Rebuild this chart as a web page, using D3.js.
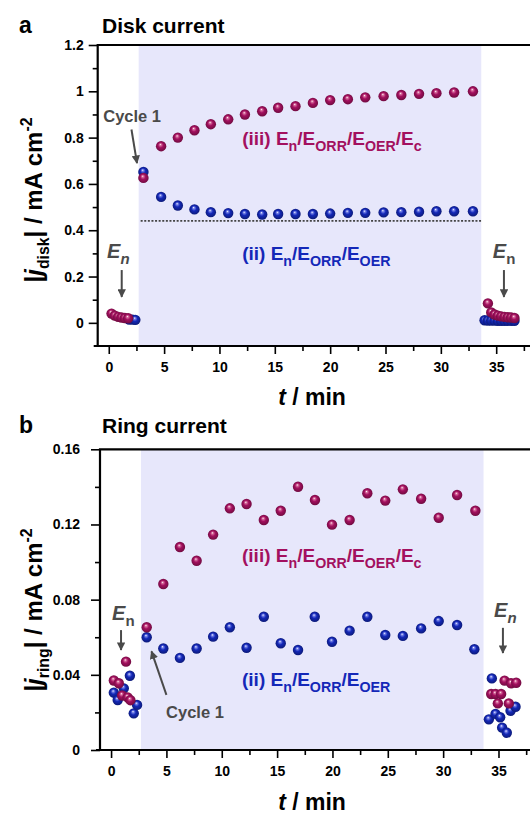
<!DOCTYPE html>
<html>
<head>
<meta charset="utf-8">
<script src="https://cdn.jsdelivr.net/npm/d3@7"></script>
<style>
  body { margin: 0; background: #fff; }
  svg { font-family: "Liberation Sans", Arial, sans-serif; font-weight: bold; }
</style>
</head>
<body>
<div id="chart"></div>
<script>
// ---- data ----
// disk current, panel a
var diskIII_t = [0.25, 0.55, 0.85, 1.15, 1.45, 1.75,
  3.13, 4.73, 6.24, 7.74, 9.22, 10.79, 12.3, 13.86, 15.3, 16.87, 18.44, 20.0, 21.6, 23.17, 24.83, 26.43, 28.03, 29.6, 31.2, 32.9,
  34.25, 34.55, 34.85, 35.15, 35.45, 35.75, 36.05, 36.35, 36.65]
var diskIII_j = [0.040, 0.031, 0.026, 0.023, 0.021, 0.020,
  0.626, 0.763, 0.800, 0.832, 0.858, 0.879, 0.900, 0.914, 0.929, 0.936, 0.950, 0.962, 0.966, 0.974, 0.979, 0.984, 0.989, 0.992, 0.995, 1.000,
  0.084, 0.045, 0.036, 0.031, 0.028, 0.026, 0.024, 0.023, 0.021]
var diskII_t = [1.85, 2.15, 2.4,
  3.13, 4.73, 6.24, 7.74, 9.22, 10.79, 12.3, 13.86, 15.3, 16.87, 18.44, 20.0, 21.6, 23.17, 24.83, 26.43, 28.03, 29.6, 31.2, 32.9,
  33.95, 34.25, 34.55, 34.85, 35.15, 35.45, 35.75, 36.05, 36.35, 36.65]
var diskII_j = [0.014, 0.014, 0.013,
  0.652, 0.544, 0.507, 0.490, 0.478, 0.474, 0.470, 0.468, 0.470, 0.470, 0.470, 0.472, 0.475, 0.475, 0.477, 0.478, 0.480, 0.482, 0.482, 0.482,
  0.011, 0.010, 0.010, 0.010, 0.009, 0.009, 0.009, 0.009, 0.009, 0.009]
var diskBaseline = 0.44

// ring current, panel b
var ringIII_t = [0.25, 0.7, 1.0, 1.35, 1.5, 1.75,
  3.22, 4.72, 6.22, 7.73, 9.22, 10.73, 12.24, 13.8, 15.33, 16.89, 18.42, 19.96, 21.55, 23.15, 24.77, 26.36, 28.01, 29.6, 31.26, 32.91,
  34.34, 34.73, 35.24, 34.94, 35.55, 35.93, 36.14, 36.6]
var ringIII_j = [0.0370, 0.0355, 0.0290, 0.0470, 0.0280, 0.0265,
  0.0653, 0.0883, 0.1080, 0.1007, 0.1146, 0.1286, 0.1309, 0.1224, 0.1273, 0.1401, 0.1330, 0.1199, 0.1224, 0.1366, 0.1327, 0.1387, 0.1337, 0.1236, 0.1357, 0.1273,
  0.0298, 0.0298, 0.0298, 0.0248, 0.0369, 0.0248, 0.0355, 0.0358]
var ringII_t = [0.25, 0.6, 1.15, 1.7, 2.05, 2.35,
  3.22, 4.72, 6.22, 7.73, 9.22, 10.73, 12.24, 13.8, 15.33, 16.89, 18.4, 19.96, 21.55, 23.15, 24.77, 26.36, 28.01, 29.6, 31.26, 32.82,
  34.4, 34.13, 34.73, 35.15, 35.33, 35.75, 36.09, 36.54]
var ringII_j = [0.0305, 0.0266, 0.0328, 0.0395, 0.0195, 0.0240,
  0.0600, 0.0540, 0.0490, 0.0540, 0.0603, 0.0653, 0.0544, 0.0709, 0.0568, 0.0532, 0.0709, 0.0576, 0.0635, 0.0709, 0.0612, 0.0607, 0.0647, 0.0686, 0.0665, 0.0536,
  0.0381, 0.0163, 0.0192, 0.0174, 0.0119, 0.0092, 0.0209, 0.0230]

// shaded cycling window (min)
var cycleWindow = [2.7, 33.65]

var xMajor = [0, 5, 10, 15, 20, 25, 30, 35]
var xMinor = [2.5, 7.5, 12.5, 17.5, 22.5, 27.5, 32.5, 37.5]
var diskMajor = [0, 0.2, 0.4, 0.6, 0.8, 1, 1.2]
var diskMinor = [0.1, 0.3, 0.5, 0.7, 0.9, 1.1]
var ringMajor = [0, 0.04, 0.08, 0.12, 0.16]
var ringMinor = [0.02, 0.06, 0.1, 0.14]

var MAG = "#a3105f", BLU = "#1428b8", GREY = "#4a4a4a"

var width = 530, height = 816

var svg = d3.select("#chart").append("svg")
  .attr("width", width)
  .attr("height", height)

// shiny sphere markers
var defs = svg.append("defs")
function sphere(id, light, base, dark) {
  var g = defs.append("radialGradient").attr("id", id)
    .attr("cx", "50%").attr("cy", "50%").attr("r", "55%")
    .attr("fx", "42%").attr("fy", "32%")
  g.append("stop").attr("offset", "0%").attr("stop-color", "#ffffff")
  g.append("stop").attr("offset", "16%").attr("stop-color", light)
  g.append("stop").attr("offset", "45%").attr("stop-color", base)
  g.append("stop").attr("offset", "100%").attr("stop-color", dark)
}
sphere("gMag", "#d9709f", MAG, "#6a0a3c")
sphere("gBlu", "#7a86e8", BLU, "#0b1870")

defs.append("marker").attr("id", "arrow")
  .attr("viewBox", "0 0 10 10").attr("refX", 9).attr("refY", 5)
  .attr("markerWidth", 4.2).attr("markerHeight", 4.2)
  .attr("markerUnits", "strokeWidth")
  .attr("orient", "auto")
  .append("path").attr("d", "M0,0 L10,5 L0,10 z").attr("fill", GREY)

// text with sub/superscripts: parts = [[text, style]], style one of "", "i", "sub", "isub", "sup"
function rich(sel, parts, size, ratio) {
  ratio = ratio || 0.66
  var shift = 0
  parts.forEach(function(p) {
    var s = p[1] || ""
    var small = s.indexOf("sub") >= 0 || s.indexOf("sup") >= 0
    var target = s.indexOf("sub") >= 0 ? size * 0.3 : (s.indexOf("sup") >= 0 ? -size * 0.42 : 0)
    sel.append("tspan")
      .attr("dy", target - shift)
      .attr("font-size", small ? size * ratio : size)
      .attr("font-style", (s == "i" || s == "isub") ? "italic" : null)
      .text(p[0])
    shift = target
  })
}

function panel(cfg) {
  var x = d3.scaleLinear().domain([-1, 38]).range([cfg.left, cfg.left + 431.7])
  var y = d3.scaleLinear().domain(cfg.yDomain).range([cfg.bottom, cfg.top])
  var g = svg.append("g")

  // shaded window
  g.append("rect")
    .attr("x", x(cycleWindow[0])).attr("y", cfg.top)
    .attr("width", x(cycleWindow[1]) - x(cycleWindow[0]))
    .attr("height", cfg.bottom - cfg.top)
    .attr("fill", "#e7e7fb")

  if (cfg.baseline != null) {
    g.append("line")
      .attr("x1", x(cycleWindow[0]) + 2).attr("x2", x(cycleWindow[1]))
      .attr("y1", y(cfg.baseline)).attr("y2", y(cfg.baseline))
      .attr("stroke", "#444").attr("stroke-width", 1.8)
      .attr("stroke-dasharray", "2,1.6")
  }

  // axes
  var yl = g.append("g").attr("transform", "translate(" + cfg.left + ",0)")
  yl.call(d3.axisLeft(y).tickValues(cfg.yMajor).tickSize(9).tickPadding(cfg.yPad)
    .tickFormat(function(d) { return String(+d.toFixed(2)) }))
  yl.append("g").call(d3.axisLeft(y).tickValues(cfg.yMinor).tickSize(5).tickFormat(""))
  var xb = g.append("g").attr("transform", "translate(0," + cfg.bottom + ")")
  xb.call(d3.axisBottom(x).tickValues(xMajor).tickSize(8).tickPadding(8))
  xb.append("g").call(d3.axisBottom(x).tickValues(xMinor).tickSize(5).tickFormat(""))
  g.selectAll(".domain").remove()
  g.selectAll(".tick line").attr("stroke", "#000").attr("stroke-width", 1.6)
  g.selectAll(".tick text").attr("fill", "#000").attr("font-size", 14)
    .attr("font-family", "Liberation Sans, Arial, sans-serif").attr("font-weight", "bold")

  g.append("path")
    .attr("d", "M" + (cfg.left - 4) + "," + cfg.bottom + "H" + width +
               "M" + cfg.left + "," + (cfg.bottom + 1) + "V" + cfg.top + "H" + width)
    .attr("fill", "none").attr("stroke", "#000").attr("stroke-width", 2.2)

  // points
  function dots(ts, js, fill) {
    g.append("g").selectAll("circle")
      .data(ts.map(function(t, i) { return [t, js[i]] }))
      .join("circle")
        .attr("cx", function(d) { return x(d[0]) })
        .attr("cy", function(d) { return y(d[1]) })
        .attr("r", 5.2)
        .attr("fill", fill)
  }
  dots(cfg.ii[0], cfg.ii[1], "url(#gBlu)")
  dots(cfg.iii[0], cfg.iii[1], "url(#gMag)")

  // titles
  svg.append("text").attr("x", cfg.letterX).attr("y", cfg.titleY)
    .attr("font-size", 23).text(cfg.letter)
  svg.append("text").attr("x", 102).attr("y", cfg.titleY)
    .attr("font-size", 21).text(cfg.title)

  rich(svg.append("text").attr("x", 312).attr("y", cfg.xTitleY).attr("text-anchor", "middle"),
       [["t", "i"], [" / min", ""]], 23)

  rich(svg.append("text")
         .attr("transform", "translate(" + cfg.yTitleX + "," + cfg.yTitleY + ") rotate(-90)")
         .attr("text-anchor", "middle"),
       [["|", ""], ["j", "i"], [cfg.sub, "sub"], ["| / mA cm", ""], ["-2", "sup"]], 24)

  // series labels
  rich(g.append("text").attr("x", x(cfg.lab3[0])).attr("y", y(cfg.lab3[1])).attr("fill", MAG),
       [["(iii) E", ""], ["n", "sub"], ["/E", ""], ["ORR", "sub"], ["/E", ""], ["OER", "sub"], ["/E", ""], ["c", "sub"]], 19, 0.75)
  rich(g.append("text").attr("x", x(cfg.lab2[0])).attr("y", y(cfg.lab2[1])).attr("fill", BLU),
       [["(ii) E", ""], ["n", "sub"], ["/E", ""], ["ORR", "sub"], ["/E", ""], ["OER", "sub"]], 19, 0.75)

  // E_n markers
  cfg.en.forEach(function(e) {
    rich(g.append("text").attr("x", x(e.at[0])).attr("y", y(e.at[1])).attr("fill", GREY),
         [["E", "i"], ["n", e.subItalic ? "isub" : "sub"]], 20, 0.75)
    g.append("line")
      .attr("x1", x(e.arrow[0])).attr("x2", x(e.arrow[0]))
      .attr("y1", y(e.arrow[1])).attr("y2", y(e.arrow[2]))
      .attr("stroke", GREY).attr("stroke-width", 2)
      .attr("marker-end", "url(#arrow)")
  })

  // Cycle 1
  g.append("text").attr("x", x(cfg.cyc.at[0])).attr("y", y(cfg.cyc.at[1]))
    .attr("fill", GREY).attr("font-size", 16.5).text("Cycle 1")
  g.append("line")
    .attr("x1", x(cfg.cyc.from[0])).attr("y1", y(cfg.cyc.from[1]))
    .attr("x2", x(cfg.cyc.to[0])).attr("y2", y(cfg.cyc.to[1]))
    .attr("stroke", GREY).attr("stroke-width", 2)
    .attr("marker-end", "url(#arrow)")
}

panel({
  left: 97.7, top: 45, bottom: 346, yDomain: [-0.1, 1.2], yPad: 5,
  yMajor: diskMajor, yMinor: diskMinor,
  iii: [diskIII_t, diskIII_j], ii: [diskII_t, diskII_j], baseline: diskBaseline,
  letter: "a", letterX: 19, title: "Disk current", titleY: 33,
  xTitleY: 405, yTitleX: 42, yTitleY: 200, sub: "disk",
  lab3: [12.05, 0.768], lab2: [12.05, 0.27],
  en: [{ at: [-0.15, 0.28], subItalic: true, arrow: [1.17, 0.228, 0.112] },
       { at: [34.7, 0.28], subItalic: false, arrow: [35.7, 0.228, 0.112] }],
  cyc: { at: [-0.5, 0.868], from: [2.05, 0.835], to: [2.55, 0.69] }
})

panel({
  left: 100, top: 449.3, bottom: 750, yDomain: [0, 0.16], yPad: 11,
  yMajor: ringMajor, yMinor: ringMinor,
  iii: [ringIII_t, ringIII_j], ii: [ringII_t, ringII_j], baseline: null,
  letter: "b", letterX: 19, title: "Ring current", titleY: 433,
  xTitleY: 810, yTitleX: 42, yTitleY: 610, sub: "ring",
  lab3: [11.83, 0.1], lab2: [11.83, 0.034],
  en: [{ at: [0.09, 0.069], subItalic: false, arrow: [0.9, 0.0638, 0.0532] },
       { at: [34.6, 0.0708], subItalic: true, arrow: [35.4, 0.065, 0.0516] }],
  cyc: { at: [4.97, 0.017], from: [5.0, 0.0293], to: [3.65, 0.0525] }
})
</script>
</body>
</html>
